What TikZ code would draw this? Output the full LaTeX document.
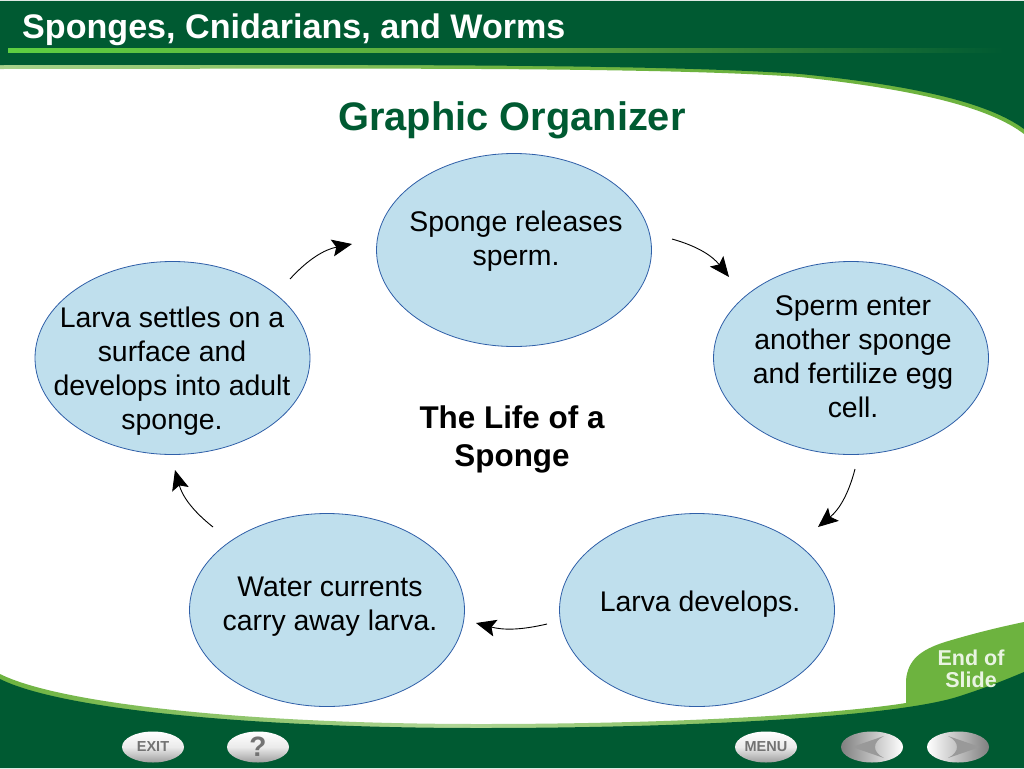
\documentclass[tikz,border=0pt]{standalone}
\usepackage{fontspec}
\setmainfont{Liberation Sans}
\usetikzlibrary{positioning}
\usetikzlibrary{shapes}
\usetikzlibrary{arrows.meta}
\definecolor{darkgreen}{HTML}{005A32}
\definecolor{leafgreen}{HTML}{6DB33F}
\definecolor{bubble}{HTML}{BFDFED}
\definecolor{bubbleline}{HTML}{2F5FA8}
\tikzset{
    every picture/.append style={
        >={Stealth[length=20pt,width=17pt,inset=4pt]}
    }
}
\tikzset{
    bubble/.style={shape=ellipse,draw=bubbleline,fill=bubble,line width=0.8pt,minimum width=275pt,minimum height=193pt,inner sep=0pt},
    bubbletext/.style={align=center,font=\fontsize{28.4}{34}\selectfont,text=black},
    flow/.style={line width=0.9pt,black},
    button/.style={shape=ellipse,minimum width=62pt,minimum height=31pt,inner sep=0pt,top color=white,bottom color=gray!75,middle color=white!92!black,text=gray!90!black,font=\bfseries\fontsize{14.5}{16}\selectfont},
}

\begin{document}
\begin{tikzpicture}[x=1pt,y=-1pt]
		\useasboundingbox (0,0) rectangle (1024,768);
		\fill[white] (0,0) rectangle (1024,768);
		
		% header band
		\shade[left color=leafgreen!60!white,right color=leafgreen,middle color=leafgreen] (0,60) -- (1024,60) -- (1024,134) .. controls (990,108) and (920,90) .. (800,77) .. controls (650,66) and (300,69) .. (0,69) -- cycle;
		\fill[darkgreen] (0,1) -- (1024,1) -- (1024,129) .. controls (990,104) and (920,86) .. (800,74) .. controls (650,63) and (300,65) .. (0,65) -- cycle;
		\shade[left color=leafgreen!70!green!90!white,right color=darkgreen,middle color=leafgreen!85!darkgreen] (8,49) rectangle (1004,53);
		\node[anchor=base west,inner sep=0pt,text=white,font=\bfseries\fontsize{34.1}{36}\selectfont] (title) at (22,39) {Sponges, Cnidarians, and Worms};
		\node[anchor=base,inner sep=0pt,text=darkgreen,font=\bfseries\fontsize{39.8}{42}\selectfont] (heading) at (512,130) {Graphic Organizer};
		
		% footer band
		\shade[left color=leafgreen,right color=leafgreen,middle color=leafgreen!55!white] (0,674) .. controls (60,704) and (250,724) .. (480,724) .. controls (700,724) and (850,712) .. (906,703) -- (906,735) -- (0,735) -- cycle;
		\fill[leafgreen] (906,703) -- (906,680) .. controls (908,660) and (920,650) .. (945,642) .. controls (975,633) and (1000,627) .. (1024,622) -- (1024,690) -- (906,720) -- cycle;
		\fill[darkgreen] (0,679) .. controls (60,709) and (250,728) .. (480,728) .. controls (700,728) and (900,716) .. (960,696) .. controls (985,688) and (1005,680) .. (1024,672) -- (1024,768) -- (0,768) -- cycle;
		\node[text=white!85!leafgreen,align=center,font=\bfseries\fontsize{21.5}{22}\selectfont] (endslide) at (971,669) {End of\\Slide};
		
		% buttons
		\node[button] (exit) at (153,747) {EXIT};
		\node[button,font=\bfseries\fontsize{28}{28}\selectfont] (help) at (258,747) {?};
		\node[button] (menu) at (766,747) {MENU};
		\node[button,left color=gray,right color=white] (prev) at (872,747) {};
		\node[button,left color=white,right color=gray] (next) at (958,747) {};
		\fill[gray!80] (852,747) -- (884,736) .. controls (872,742) and (872,752) .. (884,758) -- cycle;
		\fill[gray!80] (980,747) -- (948,736) .. controls (960,742) and (960,752) .. (948,758) -- cycle;
		
		% cycle
		\node[bubble] (releases) at (514,250) {};
		\node[bubble] (enter) at (851,358) {};
		\node[bubble] (develops) at (697,610) {};
		\node[bubble] (currents) at (327,610) {};
		\node[bubble] (settles) at (172.5,358) {};
		
		\node[bubbletext] (releasestext) at (516,241) {Sponge releases\\sperm.};
		\node[bubbletext] (entertext) at (853,356.5) {Sperm enter\\another sponge\\and fertilize egg\\cell.};
		\node[bubbletext] (developstext) at (700,604) {Larva develops.};
		\node[bubbletext] (currentstext) at (330,607) {Water currents\\carry away larva.};
		\node[bubbletext] (settlestext) at (172,371) {Larva settles on a\\surface and\\develops into adult\\sponge.};
		\node[align=center,font=\bfseries\fontsize{31.4}{38}\selectfont] (life) at (512,439) {The Life of a\\Sponge};
		
		\coordinate (a1) at (672,239);
		\coordinate (a2) at (729,277);
		\coordinate (b1) at (855,469);
		\coordinate (b2) at (818,527);
		\coordinate (c1) at (547,624);
		\coordinate (c2) at (476,623);
		\coordinate (d1) at (213,527);
		\coordinate (d2) at (175,470);
		\coordinate (e1) at (290,279);
		\coordinate (e2) at (352,244);
		
		\path [->,flow] (a1) edge[bend left=18] (a2);
		\path [->,flow] (b1) edge[bend right=-18] (b2);
		\path [->,flow] (c1) edge[bend left=14] (c2);
		\path [->,flow] (d1) edge[bend left=18] (d2);
		\path [->,flow] (e1) edge[bend left=18] (e2);
\end{tikzpicture}
\end{document}
